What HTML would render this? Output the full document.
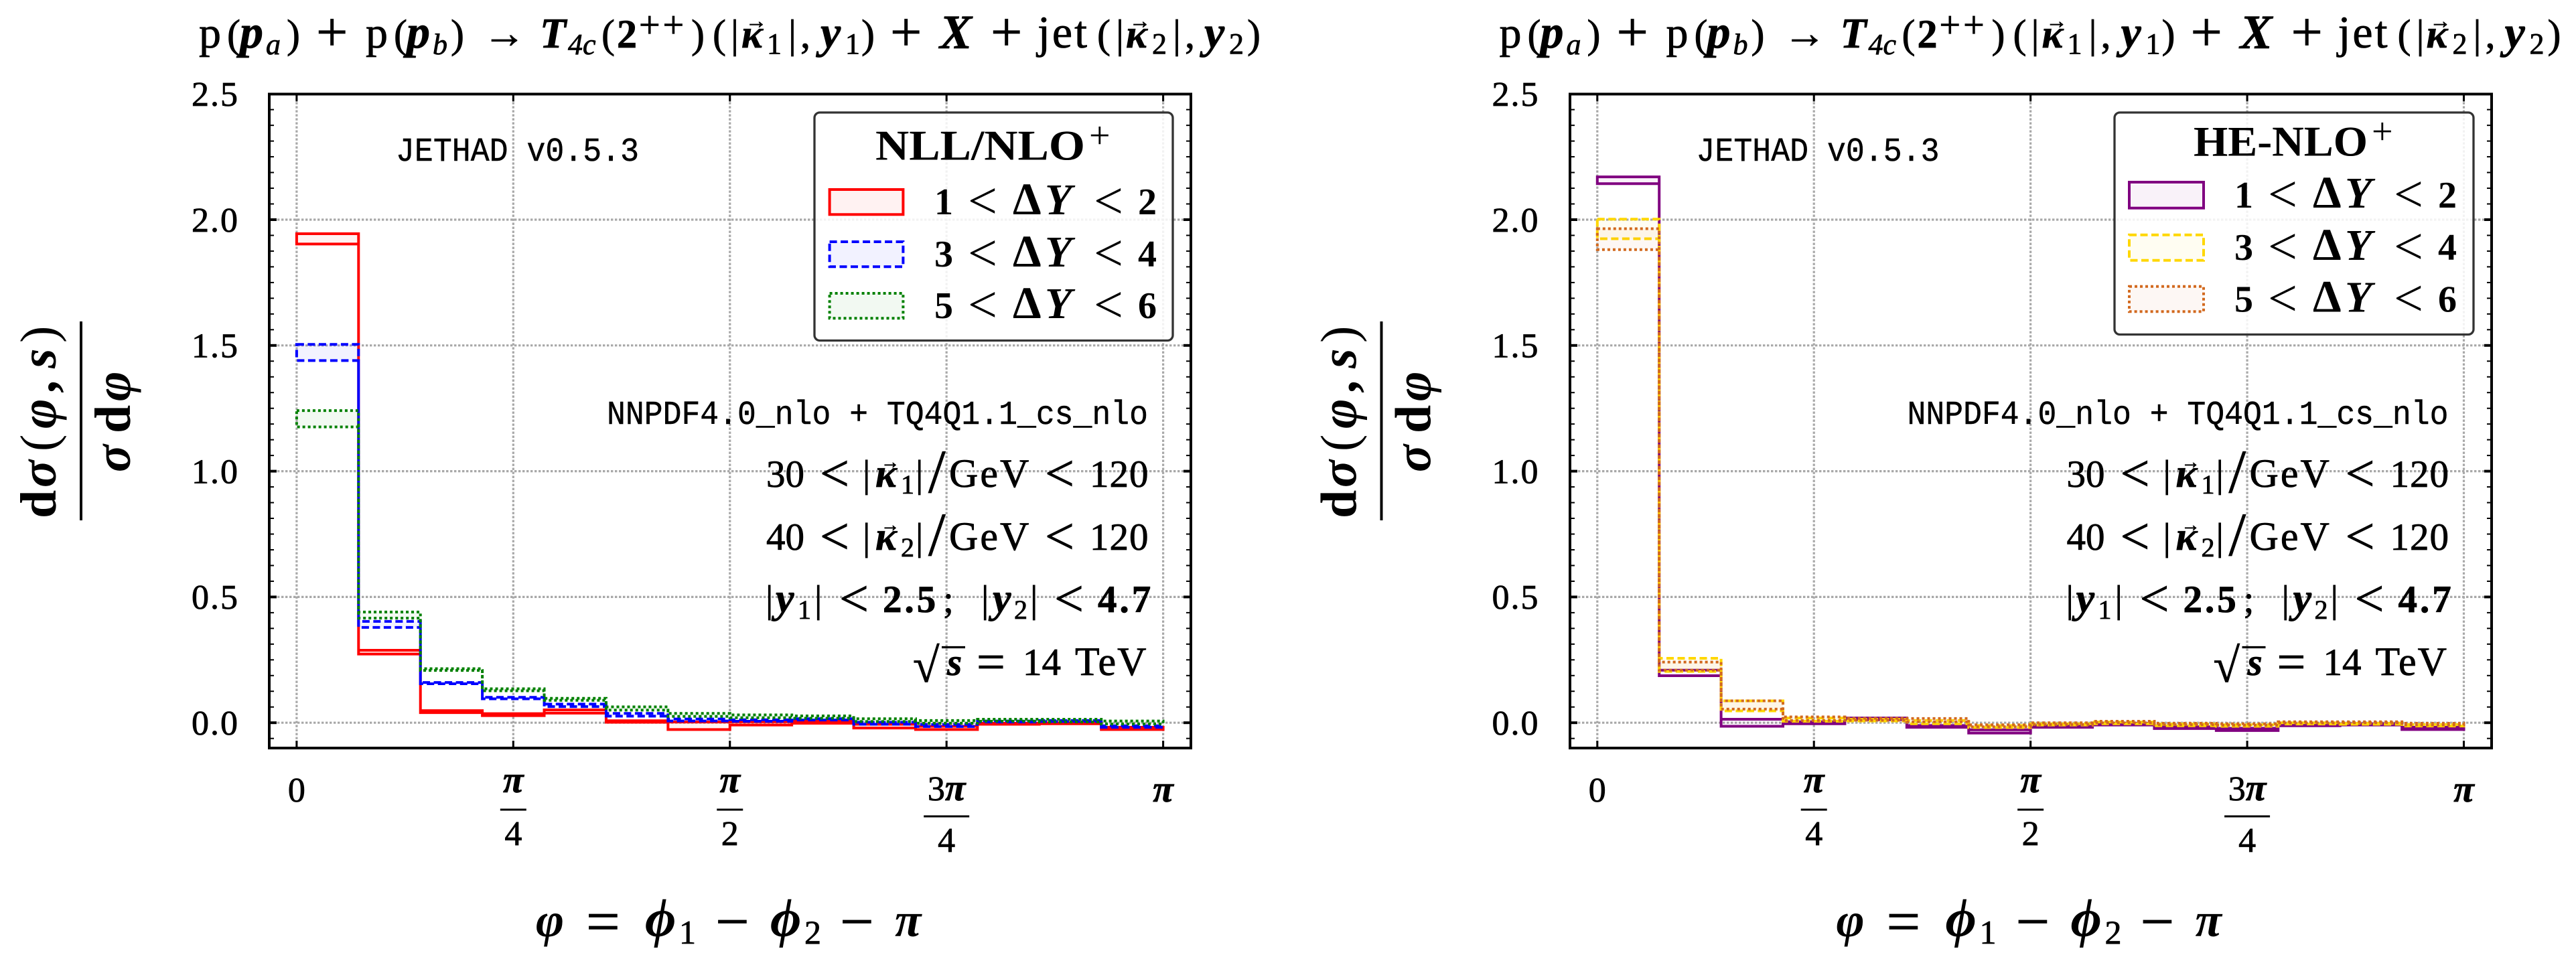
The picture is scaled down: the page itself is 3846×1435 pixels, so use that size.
<!DOCTYPE html>
<html lang="en">
<head>
<meta charset="utf-8">
<title>T4c plus jet azimuthal distribution</title>
<style>
html,body{margin:0;padding:0;background:#fff;}
svg{display:block;}
text{fill:#000;white-space:pre;}
.s{font-family:"Liberation Serif","DejaVu Serif",serif;}
.t{font-family:"Liberation Mono","DejaVu Sans Mono",monospace;stroke:#000;stroke-width:.5;}
.m{stroke:#000;stroke-width:.8;}
.b{font-weight:bold;}
.i{font-style:italic;}
.bi{font-weight:bold;font-style:italic;}
</style>
</head>
<body>
<svg id="chart" xmlns="http://www.w3.org/2000/svg" width="3846" height="1435" viewBox="0 0 3846 1435">
<rect width="3846" height="1435" fill="#fff"/>

<g id="panel-left"></g>
<g id="panel-right"></g>

<!-- LEFT PANEL TEXT -->
<g>
<text class="s m" font-size="60" y="71"><tspan x="297" font-size="66">p</tspan><tspan x="339">(</tspan><tspan x="358" class="bi" font-size="70">p</tspan><tspan x="397" y="81" class="i" font-size="44">a</tspan><tspan x="428" y="71">)</tspan><tspan x="472" y="76" font-size="84">+</tspan><tspan x="546" y="71" font-size="66">p</tspan><tspan x="588">(</tspan><tspan x="607" class="bi" font-size="70">p</tspan><tspan x="646" y="81" class="i" font-size="44">b</tspan><tspan x="673" y="71">)</tspan><tspan x="721" font-size="64">→</tspan><tspan x="806" class="bi" font-size="64">T</tspan><tspan x="848" y="81" class="i" font-size="44">4c</tspan><tspan x="898" y="71">(</tspan><tspan x="921" class="b">2</tspan><tspan x="954" y="56" font-size="56" letter-spacing="4">++</tspan><tspan x="1032" y="71">)</tspan><tspan x="1064">(</tspan><tspan x="1091">|</tspan><tspan x="1107" class="bi">κ</tspan><tspan x="1113" y="42" font-size="32" class="b">→</tspan><tspan x="1145" y="80" font-size="44">1</tspan><tspan x="1177" y="71">|</tspan><tspan x="1195">,</tspan><tspan x="1225" class="bi" font-size="68">y</tspan><tspan x="1262" y="80" font-size="44">1</tspan><tspan x="1286" y="71">)</tspan><tspan x="1329" y="76" font-size="84">+</tspan><tspan x="1403" y="72" class="bi" font-size="72">X</tspan><tspan x="1479" y="76" font-size="84">+</tspan><tspan x="1549" y="71" font-size="68" letter-spacing="3">jet</tspan><tspan x="1638">(</tspan><tspan x="1666">|</tspan><tspan x="1681" class="bi">κ</tspan><tspan x="1686" y="42" font-size="32" class="b">→</tspan><tspan x="1720" y="80" font-size="44">2</tspan><tspan x="1751" y="71">|</tspan><tspan x="1769">,</tspan><tspan x="1798" class="bi" font-size="68">y</tspan><tspan x="1835" y="80" font-size="44">2</tspan><tspan x="1862" y="71">)</tspan></text>

<text class="t" font-size="50" x="591" y="240" textLength="363" lengthAdjust="spacingAndGlyphs">JETHAD v0.5.3</text>
<text class="t" font-size="50" x="906" y="633" textLength="808" lengthAdjust="spacingAndGlyphs">NNPDF4.0_nlo + TQ4Q1.1_cs_nlo</text>
<text class="s m" font-size="57" y="727"><tspan x="1144">30</tspan><tspan x="1224" y="733" font-size="78">&lt;</tspan><tspan x="1288" y="727">|</tspan><tspan x="1307" class="bi" font-size="60">κ</tspan><tspan x="1315" y="699" font-size="28" class="b">→</tspan><tspan x="1345" y="737" font-size="40">1</tspan><tspan x="1367" y="727">|</tspan><tspan x="1386" y="735" font-size="92">/</tspan><tspan x="1417" y="727" font-size="60" letter-spacing="3">GeV</tspan><tspan x="1560" y="733" font-size="78">&lt;</tspan><tspan x="1627" y="727" letter-spacing="1">120</tspan></text>
<text class="s m" font-size="57" y="821"><tspan x="1144">40</tspan><tspan x="1224" y="827" font-size="78">&lt;</tspan><tspan x="1288" y="821">|</tspan><tspan x="1307" class="bi" font-size="60">κ</tspan><tspan x="1315" y="793" font-size="28" class="b">→</tspan><tspan x="1345" y="831" font-size="40">2</tspan><tspan x="1367" y="821">|</tspan><tspan x="1386" y="829" font-size="92">/</tspan><tspan x="1417" y="821" font-size="60" letter-spacing="3">GeV</tspan><tspan x="1560" y="827" font-size="78">&lt;</tspan><tspan x="1627" y="821" letter-spacing="1">120</tspan></text>
<text class="s m" font-size="57" y="914"><tspan x="1143">|</tspan><tspan x="1158" class="bi" font-size="62">y</tspan><tspan x="1191" y="924" font-size="40">1</tspan><tspan x="1216" y="914">|</tspan><tspan x="1253" y="920" font-size="78">&lt;</tspan><tspan x="1318" y="914" class="b" letter-spacing="4">2.5</tspan><tspan x="1408">;</tspan><tspan x="1465">|</tspan><tspan x="1482" class="bi" font-size="62">y</tspan><tspan x="1514" y="924" font-size="40">2</tspan><tspan x="1538" y="914">|</tspan><tspan x="1574" y="920" font-size="78">&lt;</tspan><tspan x="1639" y="914" class="b" letter-spacing="4">4.7</tspan></text>
<text class="s m" font-size="57" y="1008"><tspan x="1363" y="1018" font-size="72">√</tspan><tspan x="1414" y="1008" class="bi">s</tspan><tspan x="1458" y="1014" font-size="76">=</tspan><tspan x="1527" y="1008">14</tspan><tspan x="1605" font-size="60" letter-spacing="2">TeV</tspan></text>
<line x1="1406" x2="1441" y1="966.5" y2="966.5" stroke="#000" stroke-width="3.2"/>

<text class="s" font-size="76" transform="translate(83,774) rotate(-90)"><tspan x="0" class="b">d</tspan><tspan x="46" class="bi">σ</tspan><tspan x="100">(</tspan><tspan x="134" class="bi">φ</tspan><tspan x="187" class="b">,</tspan><tspan x="224" class="bi">s</tspan><tspan x="262">)</tspan></text>
<line x1="121" x2="121" y1="480" y2="777" stroke="#000" stroke-width="4"/>
<text class="s" font-size="76" transform="translate(194,705) rotate(-90)"><tspan x="0" class="bi">σ</tspan><tspan x="58" class="b">d</tspan><tspan x="106" class="bi">φ</tspan></text>
<text class="s" font-size="72" y="1398"><tspan x="800" class="bi">φ</tspan><tspan x="875" y="1406" font-size="90" class="m">=</tspan><tspan x="963" y="1398" class="bi" font-size="80">ϕ</tspan><tspan x="1014" y="1409" font-size="50" class="m">1</tspan><tspan x="1068" y="1406" font-size="90" class="m">−</tspan><tspan x="1150" y="1398" class="bi" font-size="80">ϕ</tspan><tspan x="1201" y="1409" font-size="50" class="m">2</tspan><tspan x="1254" y="1406" font-size="90" class="m">−</tspan><tspan x="1336" y="1398" class="bi">π</tspan></text>

<g>
<rect x="1216" y="168" width="535" height="340.5" rx="8" fill="#fff" fill-opacity=".85" stroke="#333" stroke-width="3.3"/>
<text class="s b" font-size="64" x="1307" y="238.5" textLength="313" lengthAdjust="spacingAndGlyphs">NLL/NLO</text>
<text class="s" font-size="56" x="1626" y="221">+</text>
<rect x="1238.6" y="283" width="109.8" height="37.3" fill="#ff0000" fill-opacity=".05" stroke="#ff0000" stroke-width="4"/>
<rect x="1238.6" y="361" width="109.8" height="37.3" fill="#0000ff" fill-opacity=".05" stroke="#0000ff" stroke-width="4" stroke-dasharray="11 5.5"/>
<rect x="1238.6" y="438" width="109.8" height="37.3" fill="#008000" fill-opacity=".05" stroke="#008000" stroke-width="4" stroke-dasharray="4 4"/>
<text class="s b" font-size="56" y="320"><tspan x="1395">1</tspan><tspan x="1445" y="326" font-size="78" font-weight="normal">&lt;</tspan><tspan x="1512" y="320" font-size="68">Δ</tspan><tspan x="1560" class="i" font-size="66">Y</tspan><tspan x="1633" y="326" font-size="78" font-weight="normal">&lt;</tspan><tspan x="1699" y="320">2</tspan></text>
<text class="s b" font-size="56" y="398"><tspan x="1395">3</tspan><tspan x="1445" y="404" font-size="78" font-weight="normal">&lt;</tspan><tspan x="1512" y="398" font-size="68">Δ</tspan><tspan x="1560" class="i" font-size="66">Y</tspan><tspan x="1633" y="404" font-size="78" font-weight="normal">&lt;</tspan><tspan x="1699" y="398">4</tspan></text>
<text class="s b" font-size="56" y="475"><tspan x="1395">5</tspan><tspan x="1445" y="481" font-size="78" font-weight="normal">&lt;</tspan><tspan x="1512" y="475" font-size="68">Δ</tspan><tspan x="1560" class="i" font-size="66">Y</tspan><tspan x="1633" y="481" font-size="78" font-weight="normal">&lt;</tspan><tspan x="1699" y="475">6</tspan></text>
</g>
</g>

<!-- RIGHT PANEL TEXT -->
<g transform="translate(1941.5,0)">
<text class="s m" font-size="60" y="71"><tspan x="297" font-size="66">p</tspan><tspan x="339">(</tspan><tspan x="358" class="bi" font-size="70">p</tspan><tspan x="397" y="81" class="i" font-size="44">a</tspan><tspan x="428" y="71">)</tspan><tspan x="472" y="76" font-size="84">+</tspan><tspan x="546" y="71" font-size="66">p</tspan><tspan x="588">(</tspan><tspan x="607" class="bi" font-size="70">p</tspan><tspan x="646" y="81" class="i" font-size="44">b</tspan><tspan x="673" y="71">)</tspan><tspan x="721" font-size="64">→</tspan><tspan x="806" class="bi" font-size="64">T</tspan><tspan x="848" y="81" class="i" font-size="44">4c</tspan><tspan x="898" y="71">(</tspan><tspan x="921" class="b">2</tspan><tspan x="954" y="56" font-size="56" letter-spacing="4">++</tspan><tspan x="1032" y="71">)</tspan><tspan x="1064">(</tspan><tspan x="1091">|</tspan><tspan x="1107" class="bi">κ</tspan><tspan x="1113" y="42" font-size="32" class="b">→</tspan><tspan x="1145" y="80" font-size="44">1</tspan><tspan x="1177" y="71">|</tspan><tspan x="1195">,</tspan><tspan x="1225" class="bi" font-size="68">y</tspan><tspan x="1262" y="80" font-size="44">1</tspan><tspan x="1286" y="71">)</tspan><tspan x="1329" y="76" font-size="84">+</tspan><tspan x="1403" y="72" class="bi" font-size="72">X</tspan><tspan x="1479" y="76" font-size="84">+</tspan><tspan x="1549" y="71" font-size="68" letter-spacing="3">jet</tspan><tspan x="1638">(</tspan><tspan x="1666">|</tspan><tspan x="1681" class="bi">κ</tspan><tspan x="1686" y="42" font-size="32" class="b">→</tspan><tspan x="1720" y="80" font-size="44">2</tspan><tspan x="1751" y="71">|</tspan><tspan x="1769">,</tspan><tspan x="1798" class="bi" font-size="68">y</tspan><tspan x="1835" y="80" font-size="44">2</tspan><tspan x="1862" y="71">)</tspan></text>

<text class="t" font-size="50" x="591" y="240" textLength="363" lengthAdjust="spacingAndGlyphs">JETHAD v0.5.3</text>
<text class="t" font-size="50" x="906" y="633" textLength="808" lengthAdjust="spacingAndGlyphs">NNPDF4.0_nlo + TQ4Q1.1_cs_nlo</text>
<text class="s m" font-size="57" y="727"><tspan x="1144">30</tspan><tspan x="1224" y="733" font-size="78">&lt;</tspan><tspan x="1288" y="727">|</tspan><tspan x="1307" class="bi" font-size="60">κ</tspan><tspan x="1315" y="699" font-size="28" class="b">→</tspan><tspan x="1345" y="737" font-size="40">1</tspan><tspan x="1367" y="727">|</tspan><tspan x="1386" y="735" font-size="92">/</tspan><tspan x="1417" y="727" font-size="60" letter-spacing="3">GeV</tspan><tspan x="1560" y="733" font-size="78">&lt;</tspan><tspan x="1627" y="727" letter-spacing="1">120</tspan></text>
<text class="s m" font-size="57" y="821"><tspan x="1144">40</tspan><tspan x="1224" y="827" font-size="78">&lt;</tspan><tspan x="1288" y="821">|</tspan><tspan x="1307" class="bi" font-size="60">κ</tspan><tspan x="1315" y="793" font-size="28" class="b">→</tspan><tspan x="1345" y="831" font-size="40">2</tspan><tspan x="1367" y="821">|</tspan><tspan x="1386" y="829" font-size="92">/</tspan><tspan x="1417" y="821" font-size="60" letter-spacing="3">GeV</tspan><tspan x="1560" y="827" font-size="78">&lt;</tspan><tspan x="1627" y="821" letter-spacing="1">120</tspan></text>
<text class="s m" font-size="57" y="914"><tspan x="1143">|</tspan><tspan x="1158" class="bi" font-size="62">y</tspan><tspan x="1191" y="924" font-size="40">1</tspan><tspan x="1216" y="914">|</tspan><tspan x="1253" y="920" font-size="78">&lt;</tspan><tspan x="1318" y="914" class="b" letter-spacing="4">2.5</tspan><tspan x="1408">;</tspan><tspan x="1465">|</tspan><tspan x="1482" class="bi" font-size="62">y</tspan><tspan x="1514" y="924" font-size="40">2</tspan><tspan x="1538" y="914">|</tspan><tspan x="1574" y="920" font-size="78">&lt;</tspan><tspan x="1639" y="914" class="b" letter-spacing="4">4.7</tspan></text>
<text class="s m" font-size="57" y="1008"><tspan x="1363" y="1018" font-size="72">√</tspan><tspan x="1414" y="1008" class="bi">s</tspan><tspan x="1458" y="1014" font-size="76">=</tspan><tspan x="1527" y="1008">14</tspan><tspan x="1605" font-size="60" letter-spacing="2">TeV</tspan></text>
<line x1="1406" x2="1441" y1="966.5" y2="966.5" stroke="#000" stroke-width="3.2"/>

<text class="s" font-size="76" transform="translate(83,774) rotate(-90)"><tspan x="0" class="b">d</tspan><tspan x="46" class="bi">σ</tspan><tspan x="100">(</tspan><tspan x="134" class="bi">φ</tspan><tspan x="187" class="b">,</tspan><tspan x="224" class="bi">s</tspan><tspan x="262">)</tspan></text>
<line x1="121" x2="121" y1="480" y2="777" stroke="#000" stroke-width="4"/>
<text class="s" font-size="76" transform="translate(194,705) rotate(-90)"><tspan x="0" class="bi">σ</tspan><tspan x="58" class="b">d</tspan><tspan x="106" class="bi">φ</tspan></text>
<text class="s" font-size="72" y="1398"><tspan x="800" class="bi">φ</tspan><tspan x="875" y="1406" font-size="90" class="m">=</tspan><tspan x="963" y="1398" class="bi" font-size="80">ϕ</tspan><tspan x="1014" y="1409" font-size="50" class="m">1</tspan><tspan x="1068" y="1406" font-size="90" class="m">−</tspan><tspan x="1150" y="1398" class="bi" font-size="80">ϕ</tspan><tspan x="1201" y="1409" font-size="50" class="m">2</tspan><tspan x="1254" y="1406" font-size="90" class="m">−</tspan><tspan x="1336" y="1398" class="bi">π</tspan></text>
</g>

<g>
<rect x="3157" y="168" width="536" height="331.5" rx="8" fill="#fff" fill-opacity=".85" stroke="#333" stroke-width="3.3"/>
<text class="s b" font-size="64" x="3275" y="232.5" textLength="260" lengthAdjust="spacingAndGlyphs">HE-NLO</text>
<text class="s" font-size="56" x="3541" y="215">+</text>
<rect x="3179" y="272" width="111" height="38.7" fill="#800080" fill-opacity=".05" stroke="#800080" stroke-width="4"/>
<rect x="3179" y="350.7" width="111" height="38" fill="#ffd700" fill-opacity=".05" stroke="#ffd700" stroke-width="4" stroke-dasharray="11 5.5"/>
<rect x="3179" y="427.7" width="111" height="37.6" fill="#d2691e" fill-opacity=".05" stroke="#d2691e" stroke-width="4" stroke-dasharray="4 4"/>
<text class="s b" font-size="56" y="310"><tspan x="3336">1</tspan><tspan x="3386" y="316" font-size="78" font-weight="normal">&lt;</tspan><tspan x="3453" y="310" font-size="68">Δ</tspan><tspan x="3501" class="i" font-size="66">Y</tspan><tspan x="3574" y="316" font-size="78" font-weight="normal">&lt;</tspan><tspan x="3640" y="310">2</tspan></text>
<text class="s b" font-size="56" y="388"><tspan x="3336">3</tspan><tspan x="3386" y="394" font-size="78" font-weight="normal">&lt;</tspan><tspan x="3453" y="388" font-size="68">Δ</tspan><tspan x="3501" class="i" font-size="66">Y</tspan><tspan x="3574" y="394" font-size="78" font-weight="normal">&lt;</tspan><tspan x="3640" y="388">4</tspan></text>
<text class="s b" font-size="56" y="465.5"><tspan x="3336">5</tspan><tspan x="3386" y="471.5" font-size="78" font-weight="normal">&lt;</tspan><tspan x="3453" y="465.5" font-size="68">Δ</tspan><tspan x="3501" class="i" font-size="66">Y</tspan><tspan x="3574" y="471.5" font-size="78" font-weight="normal">&lt;</tspan><tspan x="3640" y="465.5">6</tspan></text>
</g>
</svg>

<script>
// ---- chart data ----
// bin edges in units of pi/14
const binEdges = [0,1,2,3,4,5,6,7,8,9,10,11,12,13,14];

// NLL/NLO+ panel: band limits per bin
const nllDy12Upper = [1.944,0.288,0.048,0.036,0.051,0.008,0.003,0.004,0.006,-0.006,-0.014,-0.002,0.000,-0.018];
const nllDy12Lower = [1.903,0.273,0.040,0.028,0.038,0.002,-0.027,-0.009,-0.002,-0.021,-0.027,-0.006,-0.004,-0.027];
const nllDy34Upper = [1.504,0.403,0.160,0.101,0.074,0.037,0.015,0.012,0.016,0.002,-0.007,0.007,0.009,-0.012];
const nllDy34Lower = [1.440,0.379,0.155,0.095,0.064,0.026,0.007,0.006,0.011,-0.006,-0.015,0.003,0.005,-0.018];
const nllDy56Upper = [1.241,0.440,0.215,0.135,0.097,0.063,0.037,0.031,0.027,0.016,0.009,0.014,0.014,0.007];
const nllDy56Lower = [1.176,0.416,0.208,0.127,0.089,0.050,0.025,0.020,0.018,0.005,-0.002,0.006,0.003,-0.005];

// HE-NLO+ panel: band limits per bin
const heDy12Upper = [2.170,0.209,0.014,0.004,0.019,-0.011,-0.028,-0.011,-0.002,-0.016,-0.022,-0.008,-0.004,-0.018];
const heDy12Lower = [2.143,0.187,-0.014,-0.004,0.012,-0.018,-0.041,-0.018,-0.009,-0.023,-0.031,-0.012,-0.009,-0.027];
const heDy34Upper = [2.002,0.256,0.087,0.019,0.014,0.009,-0.011,-0.004,0.003,-0.005,-0.008,0.000,-0.002,-0.007];
const heDy34Lower = [1.924,0.204,0.047,0.006,0.007,-0.004,-0.019,-0.009,-0.004,-0.012,-0.014,-0.005,-0.006,-0.013];
const heDy56Upper = [1.964,0.241,0.087,0.023,0.018,0.017,-0.008,0.000,0.006,-0.002,-0.004,0.004,0.004,-0.002];
const heDy56Lower = [1.881,0.209,0.054,0.009,0.010,0.004,-0.016,-0.007,0.000,-0.008,-0.010,-0.001,0.000,-0.009];

// axis ticks
const yMajorTicks = [0,0.5,1,1.5,2,2.5];
const yTickLabels = ['0.0','0.5','1.0','1.5','2.0','2.5'];
const xMajorTicks = [0,0.25,0.5,0.75,1];
const xTickPrefixes = ['','','','3',''];
const xTickSymbols = ['0','π','π','π','π'];
const xTickDenominators = ['','4','2','4',''];
const yMinorPerMajor = 8;
const yDomainMin = -0.1;
const yDomainMax = 2.5;

// ---- axis functions ----
const NS = 'http://www.w3.org/2000/svg';
const plotTop = 140.5, plotBottom = 1117;
const yZeroPx = 1079.2, yUnitPx = 375.6;
const xPiPx = 1293.7;
function yScale(v){ return yZeroPx - v*yUnitPx; }
function xScale(x0, phiOverPi){ return x0 + phiOverPi*xPiPx; }
function edgeX(x0, edge){ return xScale(x0, edge/14); }

function makeEl(tag, parent){
  const el = document.createElementNS(NS, tag);
  parent.appendChild(el);
  return el;
}

function drawGrid(g, frameL, frameR, x0){
  yMajorTicks.forEach(function(v){
    if (v === yDomainMax) return;
    const l = makeEl('line', g);
    
    
    l.setAttribute('x1', frameL); l.setAttribute('x2', frameR);
    l.setAttribute('y1', yScale(v)); l.setAttribute('y2', yScale(v));
    l.setAttribute('stroke', '#a8a8a8'); l.setAttribute('stroke-width', 3.2);
    l.setAttribute('stroke-dasharray', '3.4 2.6');
  });
  xMajorTicks.forEach(function(v){
    const l = makeEl('line', g);
    
    
    l.setAttribute('x1', xScale(x0, v)); l.setAttribute('x2', xScale(x0, v));
    l.setAttribute('y1', plotTop); l.setAttribute('y2', plotBottom);
    l.setAttribute('stroke', '#a8a8a8'); l.setAttribute('stroke-width', 3.2);
    l.setAttribute('stroke-dasharray', '3.4 2.6');
  });
}

function drawBand(g, x0, upper, lower, color, dash, name){
  const pts = [];
  upper.forEach(function(v, i){
    pts.push(edgeX(x0, binEdges[i]) + ',' + yScale(v));
    pts.push(edgeX(x0, binEdges[i+1]) + ',' + yScale(v));
  });
  for (let i = lower.length - 1; i >= 0; i--){
    pts.push(edgeX(x0, binEdges[i+1]) + ',' + yScale(lower[i]));
    pts.push(edgeX(x0, binEdges[i]) + ',' + yScale(lower[i]));
  }
  const p = makeEl('polygon', g);
  
  
  p.setAttribute('points', pts.join(' '));
  p.setAttribute('fill', color);
  p.setAttribute('fill-opacity', '0.05');
  p.setAttribute('stroke', color);
  p.setAttribute('stroke-width', 4);
  p.setAttribute('stroke-linejoin', 'miter');
  if (dash) p.setAttribute('stroke-dasharray', dash);
}

function drawAxes(g, frameL, frameR, x0, labelShift){
  const frame = makeEl('rect', g);
  
  
  frame.setAttribute('x', frameL); frame.setAttribute('y', plotTop);
  frame.setAttribute('width', frameR - frameL); frame.setAttribute('height', plotBottom - plotTop);
  frame.setAttribute('fill', 'none'); frame.setAttribute('stroke', '#000'); frame.setAttribute('stroke-width', 4);

  const yStep = (yMajorTicks[1] - yMajorTicks[0]) / yMinorPerMajor;
  for (let k = Math.ceil(yDomainMin/yStep); k*yStep < yDomainMax; k++){
    const major = k % yMinorPerMajor === 0;
    const len = major ? 11 : 7;
    const wid = major ? 4 : 2;
    const y = yScale(k*yStep);
    [[frameL, frameL + len],[frameR, frameR - len]].forEach(function(seg){
      const t = makeEl('line', g);
      
      
      t.setAttribute('x1', seg[0]); t.setAttribute('x2', seg[1]);
      t.setAttribute('y1', y); t.setAttribute('y2', y);
      t.setAttribute('stroke', '#000'); t.setAttribute('stroke-width', wid);
    });
  }
  xMajorTicks.forEach(function(v){
    const x = xScale(x0, v);
    [[plotTop, plotTop + 11],[plotBottom, plotBottom - 11]].forEach(function(seg){
      const t = makeEl('line', g);
      
      
      t.setAttribute('x1', x); t.setAttribute('x2', x);
      t.setAttribute('y1', seg[0]); t.setAttribute('y2', seg[1]);
      t.setAttribute('stroke', '#000'); t.setAttribute('stroke-width', 3);
    });
  });

  yMajorTicks.forEach(function(v, i){
    const t = makeEl('text', g);
    
    
    t.setAttribute('class', 's m');
    t.setAttribute('font-size', 52);
    t.setAttribute('x', 286 + labelShift);
    t.setAttribute('y', yScale(v) + 17.8);
    t.setAttribute('textLength', 69);
    t.setAttribute('lengthAdjust', 'spacing');
    t.textContent = yTickLabels[i];
  });

  xMajorTicks.forEach(function(v, i){
    const x = xScale(x0, v);
    const num = makeEl('text', g);
    
    
    num.setAttribute('class', 's m');
    num.setAttribute('font-size', 52);
    num.setAttribute('text-anchor', 'middle');
    num.setAttribute('x', x);
    const den = xTickDenominators[i];
    const tall = xTickPrefixes[i].length > 0;
    num.setAttribute('y', den ? (tall ? 1195 : 1183) : 1197);
    if (tall) {
      const pre = makeEl('tspan', num);
      pre.textContent = xTickPrefixes[i];
    }
    const sym = makeEl('tspan', num);
    if (xTickSymbols[i] !== '0') sym.setAttribute('class', 'bi');
    if (xTickSymbols[i] !== '0') sym.setAttribute('font-size', 56);
    sym.textContent = xTickSymbols[i];
    if (den){
      const bar = makeEl('line', g);
      
      
      const half = tall ? 34 : 19.5;
      const by = tall ? 1219 : 1209;
      bar.setAttribute('x1', x - half); bar.setAttribute('x2', x + half);
      bar.setAttribute('y1', by); bar.setAttribute('y2', by);
      bar.setAttribute('stroke', '#000'); bar.setAttribute('stroke-width', 3);
      const d = makeEl('text', g);
      
      
      d.setAttribute('class', 's m');
      d.setAttribute('font-size', 52);
      d.setAttribute('text-anchor', 'middle');
      d.setAttribute('x', x);
      d.setAttribute('y', tall ? 1272 : 1262);
      d.textContent = den;
    }
  });
}

// ---- left panel ----
const leftG = document.getElementById('panel-left');
drawGrid(leftG, 402, 1778, 442.9);
drawBand(leftG, 442.9, nllDy12Upper, nllDy12Lower, '#ff0000', '', 'band-nll-dy-1-2');
drawBand(leftG, 442.9, nllDy34Upper, nllDy34Lower, '#0000ff', '11 5.5', 'band-nll-dy-3-4');
drawBand(leftG, 442.9, nllDy56Upper, nllDy56Lower, '#008000', '4 4', 'band-nll-dy-5-6');
drawAxes(leftG, 402, 1778, 442.9, 0);

// ---- right panel ----
const rightG = document.getElementById('panel-right');
drawGrid(rightG, 2344, 3720, 2384.8);
drawBand(rightG, 2384.8, heDy12Upper, heDy12Lower, '#800080', '', 'band-he-nlo-dy-1-2');
drawBand(rightG, 2384.8, heDy34Upper, heDy34Lower, '#ffd700', '11 5.5', 'band-he-nlo-dy-3-4');
drawBand(rightG, 2384.8, heDy56Upper, heDy56Lower, '#d2691e', '4 4', 'band-he-nlo-dy-5-6');
drawAxes(rightG, 2344, 3720, 2384.8, 1941.5);
</script>
</body>
</html>
